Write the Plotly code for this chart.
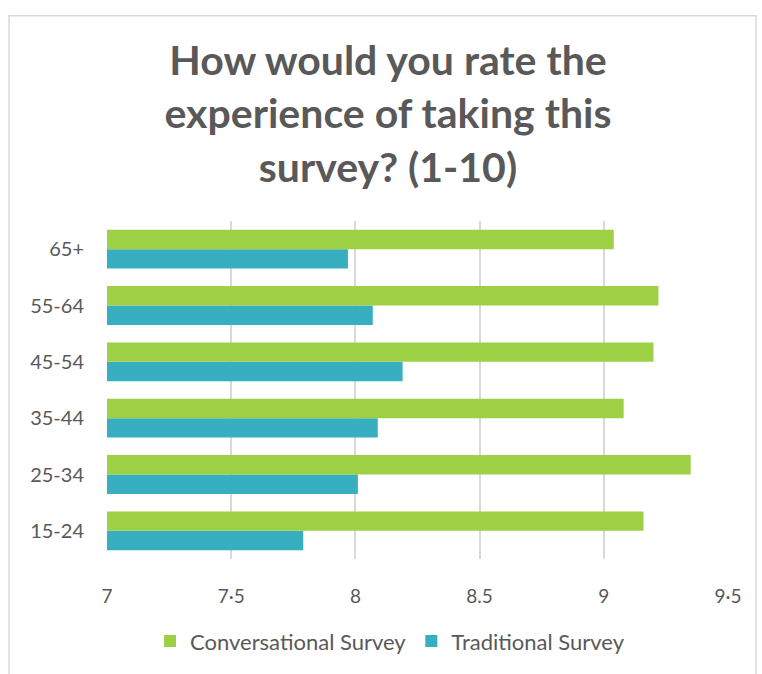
import plotly.graph_objects as go

categories = ["15-24", "25-34", "35-44", "45-54", "55-64", "65+"]
conversational = [9.16, 9.35, 9.08, 9.20, 9.22, 9.04]
traditional = [7.79, 8.01, 8.09, 8.19, 8.07, 7.97]
tick_vals = [7, 7.5, 8, 8.5, 9, 9.5]
tick_text = ["7", "7·5", "8", "8.5", "9", "9·5"]

W, H = 762, 674
ML, MR, MT, MB = 107, 34, 221, 112
pw, ph = W - ML - MR, H - MT - MB

fig = go.Figure()
fig.add_trace(go.Bar(
    y=categories, x=[v - 7 for v in traditional], base=7, orientation="h",
    name="Traditional Survey", marker=dict(color="#37AFC1", line=dict(width=0)),
))
fig.add_trace(go.Bar(
    y=categories, x=[v - 7 for v in conversational], base=7, orientation="h",
    name="Conversational Survey", marker=dict(color="#9ED046", line=dict(width=0)),
))

def px_x(p):
    return (p - ML) / pw

def px_y(p):
    return (H - MB - p) / ph

fig.add_shape(type="rect", xref="paper", yref="paper",
              x0=px_x(9), x1=px_x(756), y0=px_y(690), y1=px_y(14),
              line=dict(color="#D9D9D9", width=1.5), fillcolor="rgba(0,0,0,0)", layer="below")

fig.update_layout(
    width=W, height=H,
    margin=dict(l=ML, r=MR, t=MT, b=MB),
    paper_bgcolor="white", plot_bgcolor="white",
    barmode="group", bargap=0.31, bargroupgap=0,
    font=dict(family="Lato, sans-serif", color="#595959"),
    title=dict(
        text="<b>How would you rate the<br>experience of taking this<br>survey? (1-10)</b>",
        x=388 / W, xanchor="center", xref="container",
        y=1 - 75 / H, yanchor="top", yref="container",
        font=dict(size=41, color="#595959", family="Lato, sans-serif"),
    ),
    xaxis=dict(
        range=[7, 9.5], tickvals=tick_vals, ticktext=tick_text,
        showgrid=True, gridcolor="#D9D9D9", gridwidth=1.5,
        zeroline=False, showline=False, ticks="",
        tickfont=dict(size=19, color="#595959"), ticklabelstandoff=24,
    ),
    yaxis=dict(
        showgrid=False, showline=False, ticks="",
        tickfont=dict(size=20, color="#595959"), ticklabelstandoff=22,
    ),
    legend=dict(
        orientation="h", x=px_x(390), xanchor="center", y=px_y(645), yanchor="middle",
        traceorder="reversed", font=dict(size=22, color="#595959"),
        itemwidth=30, itemsizing="constant",
    ),
    showlegend=True,
)

fig.write_html("out.html")
